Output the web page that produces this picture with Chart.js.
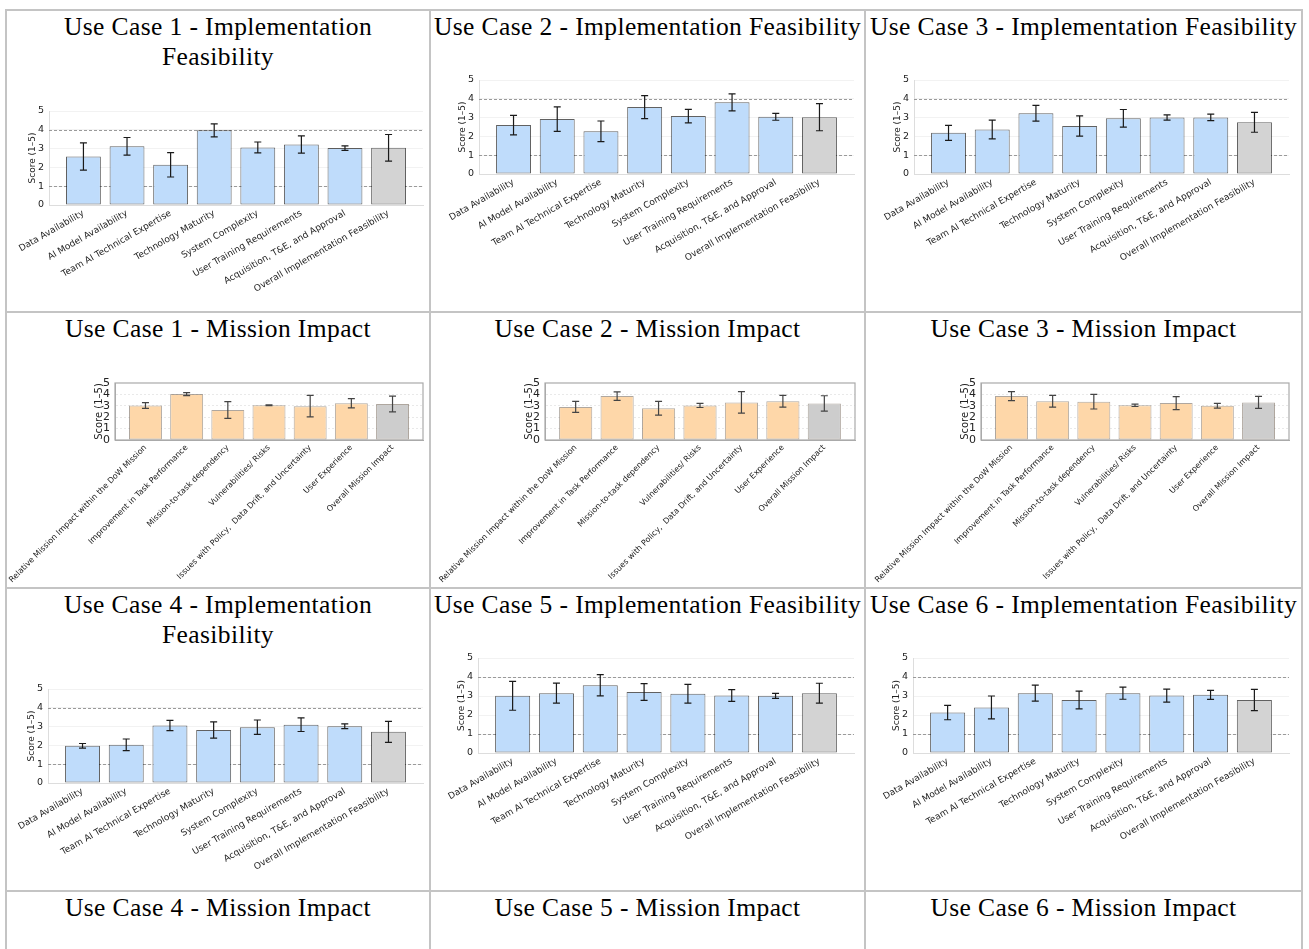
<!DOCTYPE html>
<html>
<head>
<meta charset="utf-8">
<script src="https://cdn.jsdelivr.net/npm/chart.js@4.4.0/dist/chart.umd.min.js"></script>
<style>
html, body { margin: 0; padding: 0; background: #fff; }
#page { position: relative; width: 1309px; height: 949px; overflow: hidden; background: #fff; }
.gridline { position: absolute; background: #c4c4c4; }
.cell-title { position: absolute; font-family: "Liberation Serif", "Times New Roman", serif; font-size: 25.5px; letter-spacing: 0.4px; line-height: 30px; text-align: center; color: #000; white-space: nowrap; }
.chartbox { position: absolute; }
</style>
</head>
<body>
<div id="page"></div>
<script>
// ---- data ----
var ifLabels = ['Data Availability', 'AI Model Availability', 'Team AI Technical Expertise', 'Technology Maturity',
    'System Complexity', 'User Training Requirements', 'Acquisition, T&E, and Approval', 'Overall Implementation Feasibility'];
var miLabels = ['Relative Mission Impact within the DoW Mission', 'Improvement in Task Performance', 'Mission-to-task dependency',
    'Vulnerabilities/ Risks', 'Issues with Policy,  Data Drift, and Uncertainty', 'User Experience', 'Overall Mission Impact'];
var yTickValues = [0, 1, 2, 3, 4, 5];
var thresholdLines = [1, 4];

var uc1IfScores = [2.58, 3.12, 2.14, 3.97, 3.06, 3.22, 3.03, 3.04];
var uc1IfErrors = [0.72, 0.47, 0.65, 0.35, 0.29, 0.46, 0.12, 0.71];
var uc2IfScores = [2.60, 2.92, 2.27, 3.56, 3.08, 3.81, 3.04, 3.02];
var uc2IfErrors = [0.52, 0.65, 0.55, 0.61, 0.36, 0.45, 0.18, 0.72];
var uc3IfScores = [2.19, 2.37, 3.23, 2.55, 2.96, 3.01, 3.01, 2.75];
var uc3IfErrors = [0.40, 0.50, 0.42, 0.54, 0.47, 0.14, 0.17, 0.53];
var uc4IfScores = [1.98, 2.03, 3.06, 2.82, 2.97, 3.10, 3.02, 2.72];
var uc4IfErrors = [0.12, 0.31, 0.27, 0.43, 0.38, 0.36, 0.13, 0.56];
var uc5IfScores = [3.01, 3.15, 3.57, 3.21, 3.12, 3.03, 3.01, 3.15];
var uc5IfErrors = [0.76, 0.53, 0.56, 0.44, 0.49, 0.31, 0.13, 0.52];
var uc6IfScores = [2.13, 2.40, 3.15, 2.79, 3.15, 3.02, 3.06, 2.79];
var uc6IfErrors = [0.38, 0.60, 0.42, 0.47, 0.32, 0.34, 0.24, 0.56];

var uc1MiScores = [3.03, 4.03, 2.63, 3.05, 2.97, 3.22, 3.15];
var uc1MiErrors = [0.25, 0.13, 0.74, 0.03, 0.94, 0.41, 0.69];
var uc2MiScores = [2.90, 3.85, 2.78, 3.03, 3.30, 3.40, 3.21];
var uc2MiErrors = [0.48, 0.38, 0.60, 0.18, 0.95, 0.51, 0.67];
var uc3MiScores = [3.85, 3.40, 3.36, 3.04, 3.24, 3.00, 3.30];
var uc3MiErrors = [0.40, 0.52, 0.64, 0.10, 0.57, 0.21, 0.53];

// ---- page layout ----
var cols = [{ x0: 7, x1: 429 }, { x0: 431, x1: 864 }, { x0: 866, x1: 1301 }];
var rows = [{ y0: 11, y1: 311 }, { y0: 313, y1: 587 }, { y0: 589, y1: 890 }, { y0: 892, y1: 960 }];

var panels = [
    { title: 'Use Case 1 - Implementation<br>Feasibility', col: 0, row: 0, kind: 'if', scores: uc1IfScores, errors: uc1IfErrors, plot: { x0: 49, x1: 423, y0: 111, y1: 205 } },
    { title: 'Use Case 2 - Implementation Feasibility', col: 1, row: 0, kind: 'if', scores: uc2IfScores, errors: uc2IfErrors, plot: { x0: 479, x1: 854, y0: 80, y1: 174 } },
    { title: 'Use Case 3 - Implementation Feasibility', col: 2, row: 0, kind: 'if', scores: uc3IfScores, errors: uc3IfErrors, plot: { x0: 914, x1: 1289, y0: 80, y1: 174 } },
    { title: 'Use Case 1 - Mission Impact', col: 0, row: 1, kind: 'mi', scores: uc1MiScores, errors: uc1MiErrors, plot: { x0: 115, x1: 423, y0: 383, y1: 440 } },
    { title: 'Use Case 2 - Mission Impact', col: 1, row: 1, kind: 'mi', scores: uc2MiScores, errors: uc2MiErrors, plot: { x0: 545, x1: 855, y0: 383, y1: 440 } },
    { title: 'Use Case 3 - Mission Impact', col: 2, row: 1, kind: 'mi', scores: uc3MiScores, errors: uc3MiErrors, plot: { x0: 981, x1: 1289, y0: 383, y1: 440 } },
    { title: 'Use Case 4 - Implementation<br>Feasibility', col: 0, row: 2, kind: 'if', scores: uc4IfScores, errors: uc4IfErrors, plot: { x0: 48, x1: 423, y0: 689, y1: 783 } },
    { title: 'Use Case 5 - Implementation Feasibility', col: 1, row: 2, kind: 'if', scores: uc5IfScores, errors: uc5IfErrors, plot: { x0: 478, x1: 854, y0: 658, y1: 753 } },
    { title: 'Use Case 6 - Implementation Feasibility', col: 2, row: 2, kind: 'if', scores: uc6IfScores, errors: uc6IfErrors, plot: { x0: 913, x1: 1289, y0: 658, y1: 753 } },
    { title: 'Use Case 4 - Mission Impact', col: 0, row: 3 },
    { title: 'Use Case 5 - Mission Impact', col: 1, row: 3 },
    { title: 'Use Case 6 - Mission Impact', col: 2, row: 3 }
];

var styles = {
    if: { bar: '#bfdcfb', overall: '#d3d3d3', edge: 'rgba(0,0,0,0.62)', err: '#1a1a1a', cap: 3.5, rot: 30,
          xFont: 9, yFont: 9.5, titleFont: 9, axis: '#dddddd', grid: '#f2f2f2' },
    mi: { bar: '#fed7a9', overall: '#cdcdcd', edge: 'rgba(110,95,80,0.55)', err: '#444444', cap: 3.5, rot: 45,
          xFont: 8, yFont: 11, titleFont: 10, axis: '#aaaaaa', grid: '#e9e9e9' }
};

Chart.defaults.font.family = "'DejaVu Sans', sans-serif";
Chart.defaults.color = '#222';

var page = document.getElementById('page');

function addLine(x, y, w, h) {
    var d = document.createElement('div');
    d.className = 'gridline';
    d.style.cssText = 'left:' + x + 'px;top:' + y + 'px;width:' + w + 'px;height:' + h + 'px;';
    page.appendChild(d);
}

// table borders
addLine(5, 9, 1298, 2);
addLine(5, 9, 2, 949);
addLine(1301, 9, 2, 949);
addLine(429, 9, 2, 949);
addLine(864, 9, 2, 949);
addLine(5, 311, 1298, 2);
addLine(5, 587, 1298, 2);
addLine(5, 890, 1298, 2);

// error bars from the dataset's errors, through the y scale
var errorBarPlugin = {
    id: 'errorBars',
    afterDatasetsDraw: function(chart) {
        var ds = chart.data.datasets[0], meta = chart.getDatasetMeta(0), y = chart.scales.y, ctx = chart.ctx;
        ctx.save();
        ctx.strokeStyle = ds.errColor;
        ctx.lineWidth = 1.2;
        meta.data.forEach(function(bar, i) {
            var v = ds.data[i].y, e = ds.errors[i];
            var top = y.getPixelForValue(v + e), bot = y.getPixelForValue(v - e);
            ctx.beginPath();
            ctx.moveTo(bar.x, top); ctx.lineTo(bar.x, bot);
            ctx.moveTo(bar.x - ds.cap, top); ctx.lineTo(bar.x + ds.cap, top);
            ctx.moveTo(bar.x - ds.cap, bot); ctx.lineTo(bar.x + ds.cap, bot);
            ctx.stroke();
        });
        ctx.restore();
    }
};

// dashed reference lines (implementation charts) and box frame (mission charts)
var decorPlugin = {
    id: 'decor',
    beforeDatasetsDraw: function(chart) {
        var ds = chart.data.datasets[0], area = chart.chartArea, y = chart.scales.y, ctx = chart.ctx;
        ctx.save();
        if (ds.kind === 'if') {
            ctx.strokeStyle = '#9a9a9a';
            ctx.lineWidth = 1;
            ctx.setLineDash([3, 2]);
            thresholdLines.forEach(function(v) {
                var py = Math.round(y.getPixelForValue(v)) + 0.5;
                ctx.beginPath(); ctx.moveTo(area.left, py); ctx.lineTo(area.right, py); ctx.stroke();
            });
        } else {
            ctx.strokeStyle = '#aaaaaa';
            ctx.lineWidth = 1.2;
            ctx.strokeRect(area.left, area.top, area.right - area.left, area.bottom - area.top);
        }
        ctx.restore();
    }
};

function makeChart(p) {
    var col = cols[p.col], row = rows[p.row], st = styles[p.kind];
    var labels = p.kind === 'if' ? ifLabels : miLabels;
    var n = labels.length;
    var margin = 0.05 * (n - 1 + 0.8);
    var left = col.x0 + 1, top = p.plot.y0 - 14;
    var width = col.x1 - col.x0 - 2, height = row.y1 - 1 - top;
    var yAxisW = p.plot.x0 - left;
    var xAxisH = top + height - p.plot.y1;
    var titleLine = st.titleFont * 1.2;
    var titlePad = Math.max(0, (p.plot.x0 - 16 - left) - titleLine / 2);

    var box = document.createElement('div');
    box.className = 'chartbox';
    box.style.cssText = 'left:' + left + 'px;top:' + top + 'px;width:' + width + 'px;height:' + height + 'px;';
    var canvas = document.createElement('canvas');
    canvas.width = width; canvas.height = height;
    canvas.style.width = width + 'px'; canvas.style.height = height + 'px';
    box.appendChild(canvas);
    page.appendChild(box);

    new Chart(canvas, {
        type: 'bar',
        data: {
            datasets: [{
                data: p.scores.map(function(v, i) { return { x: i, y: v }; }),
                errors: p.errors, kind: p.kind, errColor: st.err, cap: st.cap,
                backgroundColor: p.scores.map(function(v, i) { return i === n - 1 ? st.overall : st.bar; }),
                borderColor: st.edge,
                borderWidth: 1,
                borderSkipped: false,
                barPercentage: 0.8,
                categoryPercentage: 1
            }]
        },
        options: {
            responsive: false,
            animation: false,
            devicePixelRatio: 1,
            layout: { autoPadding: false, padding: { left: 0, right: left + width - p.plot.x1, top: p.plot.y0 - top, bottom: 0 } },
            plugins: { legend: { display: false }, tooltip: { enabled: false } },
            scales: {
                x: {
                    type: 'linear',
                    offset: false,
                    min: -0.4 - margin, max: n - 1 + 0.4 + margin,
                    afterBuildTicks: function(s) { s.ticks = labels.map(function(l, i) { return { value: i }; }); },
                    ticks: {
                        autoSkip: false, minRotation: st.rot, maxRotation: st.rot, padding: 3,
                        font: { size: st.xFont }, color: '#222',
                        callback: function(v) { return labels[v]; }
                    },
                    grid: { display: false, drawTicks: false, offset: false },
                    border: { color: st.axis, width: 1 },
                    afterFit: function(s) { s.height = xAxisH; s.paddingLeft = 0; s.paddingRight = 0; }
                },
                y: {
                    min: 0, max: 5,
                    afterBuildTicks: function(s) { s.ticks = yTickValues.map(function(v) { return { value: v }; }); },
                    ticks: { autoSkip: false, padding: 5, font: { size: st.yFont }, color: '#222' },
                    grid: {
                        drawTicks: false,
                        color: function(c) { return (c.tick && (c.tick.value === 0 || (p.kind === 'mi' && c.tick.value === 5))) ? 'rgba(0,0,0,0)' : st.grid; }
                    },
                    border: { color: st.axis, width: 1, dash: p.kind === 'mi' ? [2, 2] : [] },
                    title: { display: true, text: 'Score (1–5)', font: { size: st.titleFont }, color: '#222', padding: { top: titlePad, bottom: 0 } },
                    afterFit: function(s) { s.width = yAxisW; s.paddingTop = 0; s.paddingBottom = 0; }
                }
            }
        },
        plugins: [decorPlugin, errorBarPlugin]
    });
}

panels.forEach(function(p) {
    var col = cols[p.col], row = rows[p.row];
    var t = document.createElement('div');
    t.className = 'cell-title';
    t.style.cssText = 'left:' + col.x0 + 'px;top:' + (row.y0 + 1) + 'px;width:' + (col.x1 - col.x0) + 'px;';
    t.innerHTML = p.title;
    page.appendChild(t);
    if (p.kind) makeChart(p);
});
</script>
</body>
</html>
